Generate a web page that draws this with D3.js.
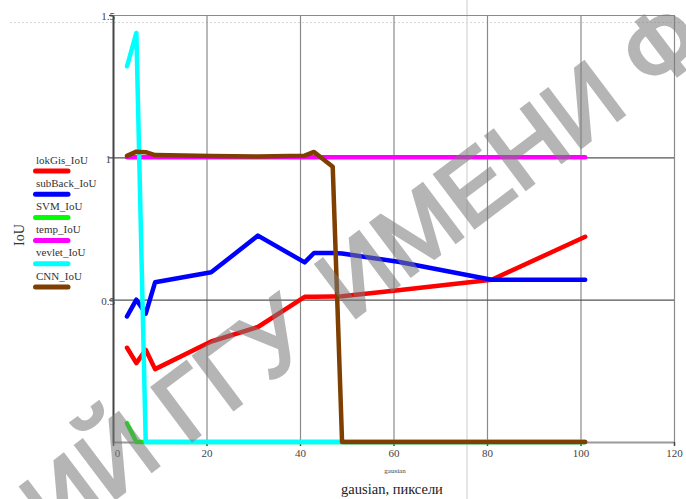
<!DOCTYPE html>
<html>
<head>
<meta charset="utf-8">
<script src="https://cdn.jsdelivr.net/npm/d3@7"></script>
<style>
  body { margin: 0; background: #fff; }
  svg { display: block; }
</style>
</head>
<body>
<svg id="chart" width="686" height="499"></svg>
<script>
// Kernel size of the gaussian filter, pixels
const gausianSizes = [3, 5, 7, 9, 21, 31, 41, 43, 47, 49, 61, 81, 101];

// IoU of each segmentation method at every kernel size
const lokGisIoU  = [0.331, 0.277, 0.324, 0.256, 0.353, 0.404, 0.510, 0.510, 0.511, 0.512, 0.533, 0.570, 0.721];
const subBackIoU = [0.441, 0.500, 0.451, 0.561, 0.596, 0.725, 0.631, 0.664, 0.664, 0.662, 0.633, 0.570, 0.570];
const svmIoU     = [0.066, 0, 0, 0, 0, 0, 0, 0, 0, 0, 0, 0, 0];
const tempIoU    = [1, 1, 1, 1, 1, 1, 1, 1, 1, 1, 1, 1, 1];
const vevletIoU  = [1.32, 1.437, 0, 0, 0, 0, 0, 0, 0, 0, 0, 0, 0];
const cnnIoU     = [1.005, 1.02, 1.018, 1.008, 1.005, 1.003, 1.006, 1.019, 0.967, 0, 0, 0, 0];

const seriesNames  = ["lokGis_IoU", "subBack_IoU", "SVM_IoU", "temp_IoU", "vevlet_IoU", "CNN_IoU"];
const seriesValues = [lokGisIoU, subBackIoU, svmIoU, tempIoU, vevletIoU, cnnIoU];
const seriesColors = ["#ff0000", "#0000ff", "#00ff00", "#ff00ff", "#00ffff", "#7f3f00"];

const xTicks = [0, 20, 40, 60, 80, 100, 120];
const yTicks = [0.5, 1, 1.5];

const svg = d3.select("#chart");
const plot = { left: 113, right: 674, top: 15, bottom: 442 };
const serif = "'Liberation Serif', 'Times New Roman', serif";

const x = d3.scaleLinear().domain([0, 120]).range([plot.left, plot.right]);
const y = d3.scaleLinear().domain([0, 1.5]).range([plot.bottom, plot.top]);

// Faint page rulings behind the chart
svg.append("line")
  .attr("x1", 467).attr("x2", 467).attr("y1", 0).attr("y2", 499)
  .attr("stroke", "#d4d4d4").attr("stroke-width", 1.2);
svg.append("line")
  .attr("x1", 10).attr("x2", 686).attr("y1", 22.5).attr("y2", 22.5)
  .attr("stroke", "#d8d8d8").attr("stroke-width", 1).attr("stroke-dasharray", "2,2");

// Vertical grid
svg.append("g")
  .attr("transform", `translate(0,${plot.bottom})`)
  .call(d3.axisBottom(x).tickValues(xTicks.slice(1)).tickSize(-(plot.bottom - plot.top)).tickFormat(""))
  .call(g => g.select(".domain").remove())
  .call(g => g.selectAll(".tick line").attr("stroke", "#8a8a8a").attr("stroke-width", 1.2));

// Horizontal grid
svg.append("g")
  .attr("transform", `translate(${plot.left},0)`)
  .call(d3.axisLeft(y).tickValues(yTicks).tickSize(-(plot.right - plot.left)).tickFormat(""))
  .call(g => g.select(".domain").remove())
  .call(g => g.selectAll(".tick line").attr("stroke", d => d === 1.5 ? "#8a8a8a" : "#555").attr("stroke-width", 1.2));

// Bottom axis
const xAxis = svg.append("g")
  .attr("transform", `translate(0,${plot.bottom})`)
  .call(d3.axisBottom(x).tickValues(xTicks).tickSize(4).tickPadding(3).tickSizeOuter(0));
xAxis.select(".domain").attr("stroke", "#9a9a9a").attr("stroke-width", 2);
xAxis.selectAll(".tick line").attr("stroke", "#444").attr("stroke-width", 1.5);
xAxis.selectAll(".tick text")
  .attr("font-family", serif).attr("font-size", 11).attr("fill", "#444")
  .attr("dx", d => d === 0 ? 4 : 0);

// Left axis
const yAxis = svg.append("g")
  .attr("transform", `translate(${plot.left},0)`)
  .call(d3.axisLeft(y).tickValues(yTicks).tickSize(4).tickPadding(0).tickSizeOuter(0).tickFormat(d3.format("")));
yAxis.select(".domain").attr("stroke", "#444").attr("stroke-width", 2);
yAxis.selectAll(".tick line").attr("stroke", "#444").attr("stroke-width", 1.2);
yAxis.selectAll(".tick text")
  .attr("font-family", serif).attr("font-size", 11).attr("fill", "#444")
  .attr("x", d => d === 1 ? -2 : 2).attr("dy", "0.45em");

// Series lines
const line = d3.line()
  .x((d, i) => x(gausianSizes[i]))
  .y(d => y(d));

svg.append("g").selectAll("path")
  .data(seriesValues)
  .join("path")
  .attr("d", d => line(d))
  .attr("fill", "none")
  .attr("stroke", (d, i) => seriesColors[i])
  .attr("stroke-width", 4.5)
  .attr("stroke-linejoin", "round")
  .attr("stroke-linecap", "round");

// Legend
const legend = svg.append("g");
seriesNames.forEach((name, i) => {
  const yy = 160 + i * 23.2;
  legend.append("text")
    .attr("x", 36).attr("y", yy + 3.5)
    .attr("font-family", serif).attr("font-size", 11).attr("fill", "#333")
    .text(name);
  legend.append("line")
    .attr("x1", 35.5).attr("x2", 68).attr("y1", yy + 11).attr("y2", yy + 11)
    .attr("stroke", seriesColors[i]).attr("stroke-width", 5).attr("stroke-linecap", "round");
});

// Axis titles
svg.append("text")
  .attr("transform", "translate(24,235) rotate(-90)")
  .attr("text-anchor", "middle")
  .attr("font-family", serif).attr("font-size", 14).attr("fill", "#333")
  .text("IoU");
svg.append("text")
  .attr("x", 395).attr("y", 473)
  .attr("text-anchor", "middle")
  .attr("font-family", serif).attr("font-size", 7).attr("fill", "#444")
  .text("gausian");
svg.append("text")
  .attr("x", 392).attr("y", 494)
  .attr("text-anchor", "middle")
  .attr("font-family", serif).attr("font-size", 14.5).attr("fill", "#222")
  .text("gausian, пиксели");

// Repository watermark
const wm = svg.append("g")
  .attr("transform", "translate(312,305) rotate(-37)")
  .attr("font-family", "'Liberation Sans', Arial, sans-serif")
  .attr("font-size", 96)
  .attr("fill", "#7a7a7a")
  .attr("stroke", "#7a7a7a")
  .attr("stroke-width", 3.5)
  .attr("stroke-linejoin", "miter")
  .attr("opacity", 0.55);
wm.append("text").attr("x", -20).attr("y", 36).attr("text-anchor", "end").text("РЕПОЗИТОРИЙ ГГУ");
wm.append("text").attr("x", 20).attr("y", 36).attr("text-anchor", "start").text("ИМЕНИ Ф. СКОРИНЫ");
</script>
</body>
</html>
